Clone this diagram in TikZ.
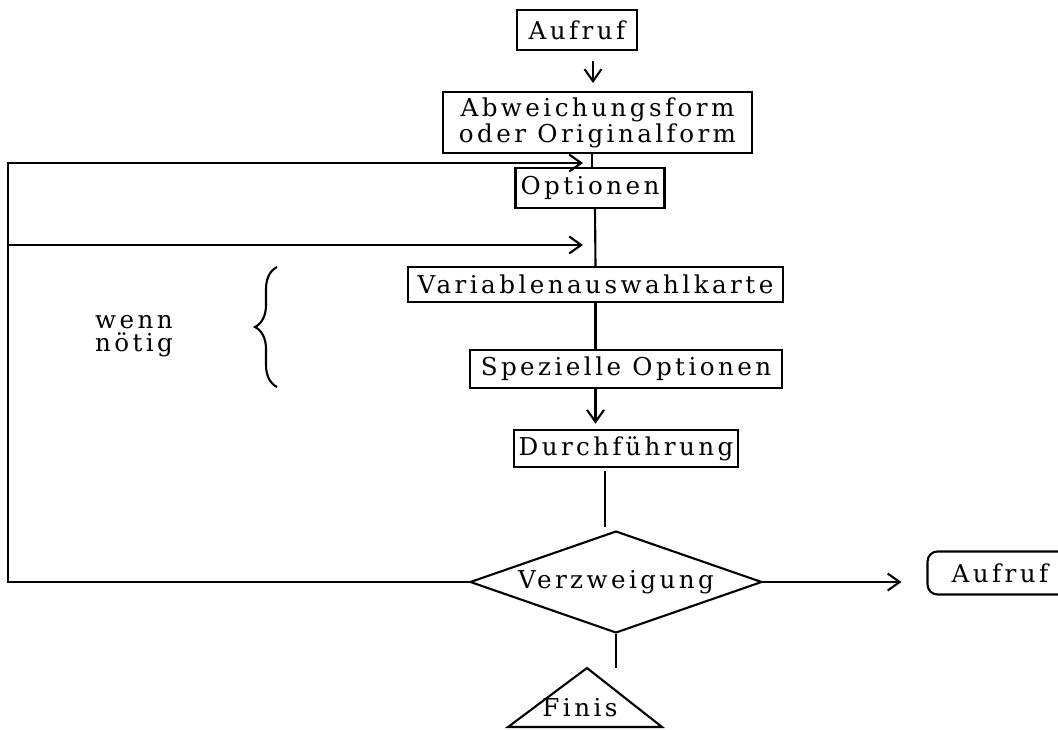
\documentclass[tikz,border=0pt]{standalone}
\usepackage{fontspec}
\setmainfont[LetterSpace=14]{DejaVu Serif}
\usetikzlibrary{shapes,arrows.meta}
\usetikzlibrary{calc,decorations.pathreplacing}

\begin{document}
\begin{tikzpicture}[x=0.02cm,y=-0.02cm,line width=1.2pt,
  font=\fontsize{14}{12.5}\selectfont,
  box/.style={draw,rectangle,inner sep=1pt,align=center},
  arr/.style={-{Straight Barb[length=2.4mm,width=3.4mm]}}]
\useasboundingbox (0,0) rectangle (1058,730);

\node[box,minimum width=2.4cm,minimum height=0.8cm] (aufruf) at (577,30) {Aufruf};
\node[box,minimum width=6.18cm,minimum height=1.22cm] (abw) at (597.5,122.5) {Abweichungsform\\oder Originalform};
\node[box,minimum width=2.98cm,minimum height=0.8cm] (opt) at (590,188) {Optionen};
\node[box,minimum width=7.5cm,minimum height=0.7cm] (var) at (595.5,284.5) {Variablenauswahlkarte};
\node[box,minimum width=6.24cm,minimum height=0.76cm] (spez) at (626,369) {Spezielle Optionen};
\node[box,minimum width=4.48cm,minimum height=0.74cm] (durch) at (626,448.5) {Durchführung};
\node[draw,diamond,aspect=2.5,inner sep=0pt,minimum width=5.84cm] (verz) at (616,582) {Verzweigung};
\node[draw,rounded corners=0.2cm,minimum width=2.9cm,minimum height=0.86cm] (aufruf2) at (1000,573) {Aufruf};
\node[align=center,font=\fontsize{14}{13}\selectfont] (wenn) at (134,336) {wenn\\nötig};

\coordinate (lt) at (8,163);
\coordinate (in1) at (583,163);
\coordinate (in2) at (583,245);
\coordinate (fintop) at (587,668);
\node (finis) at (580,708) {Finis};
\draw (fintop) -- (508,727) -- (662,727) -- cycle;

\draw[arr] ($(aufruf.south)+(16,10)$) -- ($(abw.north)+(-4.5,-8)$);
\draw ($(abw.south)+(-5.5,0)$) -- ($(opt.north)+(2,0)$);
\draw ($(opt.south)+(5,0)$) -- (var.north);
\draw (var.south) -- (var.south |- spez.north);
\draw[arr,shorten >=3pt] (var.south |- spez.south) -- (var.south |- durch.north);
\draw ($(durch.south)+(-21,3)$) -- ($(verz.north)+(-11,-3)$);
\draw (verz.south) -- (verz.south |- fintop);
\draw[arr,shorten >=0.5cm] (verz.east) -- (verz.east -| aufruf2.west);
\draw[arr] (verz.west) -| (lt) -- (in1);
\draw[arr] (lt |- in2) -- (in2);

\draw[decorate,decoration={brace,amplitude=0.44cm}] (277,387) -- (277,267);

\end{tikzpicture}
\end{document}
